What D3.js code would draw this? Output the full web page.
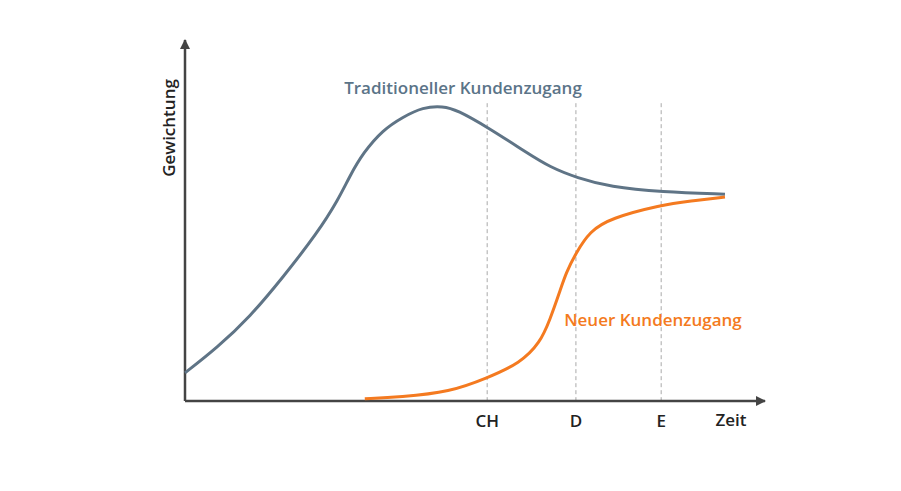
<!DOCTYPE html>
<html lang="de">
<head>
<meta charset="utf-8">
<title>Kundenzugang</title>
<script src="https://cdn.jsdelivr.net/npm/d3@7"></script>
<style>
  body { margin: 0; background: #fff; }
  text { font-family: "Open Sans", "Noto Sans", sans-serif; }
</style>
</head>
<body>
<script>
// time (0-100) and weight (0-100)
var tradX = [0, 5.5, 11.2, 16.9, 22.8, 26.4, 28.4, 30.7, 34.1, 37.6, 41.0, 44.5, 46.9, 52.1, 59.0, 62.9, 67.6, 73.3, 82.1, 93.1];
var tradY = [7.8, 14.7, 23.3, 34.3, 46.5, 55.7, 62.3, 68.7, 75.1, 78.7, 81.4, 81.7, 80.6, 75.9, 68.7, 64.8, 61.8, 59.3, 57.9, 57.3];

var neuX = [31.0, 37.1, 45.7, 52.1, 57.8, 61.2, 62.9, 64.7, 65.7, 67.4, 69.8, 73.3, 82.1, 87.1, 93.1];
var neuY = [0.6, 1.1, 2.5, 6.4, 10.5, 16.1, 22.4, 30.7, 35.5, 41.0, 47.0, 50.6, 54.3, 55.4, 56.5];

var markers = ["CH", "D", "E"];
var markerX = [52.1, 67.4, 82.1];
var markerTop = 82.5;

var width = 901, height = 491;
var x = d3.scaleLinear().domain([0, 100]).range([185, 765]);
var y = d3.scaleLinear().domain([0, 100]).range([401, 40]);

var svg = d3.select("body").append("svg")
    .attr("width", width)
    .attr("height", height);

var defs = svg.append("defs");
defs.append("marker")
    .attr("id", "arrow")
    .attr("viewBox", "0 0 10 10")
    .attr("refX", 9).attr("refY", 5)
    .attr("markerWidth", 4).attr("markerHeight", 4)
    .attr("orient", "auto")
  .append("path")
    .attr("d", "M0,0 L10,5 L0,10 z")
    .attr("fill", "#444");

// dashed markers
svg.selectAll(".mark")
    .data(markerX)
    .enter().append("line")
    .attr("x1", d => x(d)).attr("x2", d => x(d))
    .attr("y1", y(markerTop)).attr("y2", y(0))
    .attr("stroke", "#aaa")
    .attr("stroke-width", 1)
    .attr("stroke-dasharray", "4,3");

// axes
svg.append("line")
    .attr("x1", x(0)).attr("y1", y(0))
    .attr("x2", x(100)).attr("y2", y(0))
    .attr("stroke", "#444").attr("stroke-width", 2.5)
    .attr("marker-end", "url(#arrow)");
svg.append("line")
    .attr("x1", x(0)).attr("y1", y(0))
    .attr("x2", x(0)).attr("y2", y(100))
    .attr("stroke", "#444").attr("stroke-width", 2.5)
    .attr("marker-end", "url(#arrow)");

var line = d3.line()
    .x(d => x(d[0]))
    .y(d => y(d[1]))
    .curve(d3.curveBasis);

svg.append("path")
    .datum(d3.zip(tradX, tradY))
    .attr("d", line)
    .attr("fill", "none")
    .attr("stroke", "#5f7486")
    .attr("stroke-width", 3);

svg.append("path")
    .datum(d3.zip(neuX, neuY))
    .attr("d", line)
    .attr("fill", "none")
    .attr("stroke", "#f47a20")
    .attr("stroke-width", 3);

// labels
svg.selectAll(".lbl")
    .data(markers)
    .enter().append("text")
    .attr("x", (d, i) => x(markerX[i]))
    .attr("y", 427)
    .attr("text-anchor", "middle")
    .attr("font-size", 17)
    .attr("font-weight", 600)
    .attr("fill", "#222")
    .text(d => d);

svg.append("text")
    .attr("x", 731).attr("y", 426)
    .attr("text-anchor", "middle")
    .attr("font-size", 17).attr("font-weight", 600)
    .attr("fill", "#222")
    .text("Zeit");

svg.append("text")
    .attr("transform", "translate(175,128) rotate(-90)")
    .attr("text-anchor", "middle")
    .attr("font-size", 17).attr("font-weight", 600)
    .attr("fill", "#222")
    .text("Gewichtung");

svg.append("text")
    .attr("x", 463).attr("y", 94)
    .attr("text-anchor", "middle")
    .attr("font-size", 17).attr("font-weight", 600)
    .attr("fill", "#5b7488")
    .text("Traditioneller Kundenzugang");

svg.append("text")
    .attr("x", 653).attr("y", 326)
    .attr("text-anchor", "middle")
    .attr("font-size", 17).attr("font-weight", 600)
    .attr("fill", "#f47a20")
    .text("Neuer Kundenzugang");
</script>
</body>
</html>
